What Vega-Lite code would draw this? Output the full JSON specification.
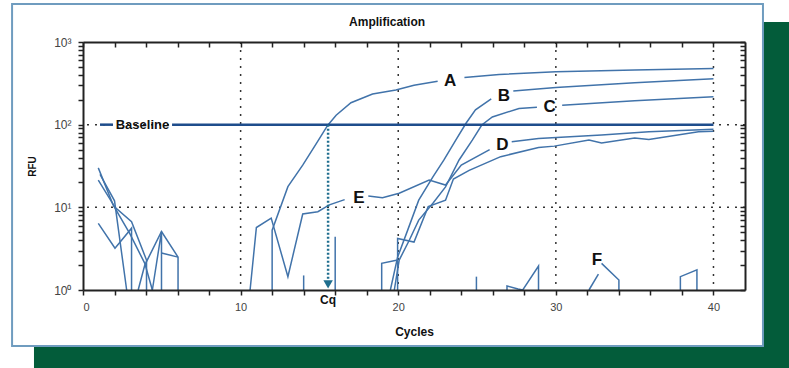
{
  "$schema": "https://vega.github.io/schema/vega-lite/v6.json",
  "width": 662,
  "height": 248,
  "autosize": {"type": "none"},
  "padding": {"left": 83, "top": 42, "right": 44, "bottom": 78},
  "background": "white",
  "config": {
    "view": {"stroke": null},
    "font": "Liberation Sans"
  },
  "datasets": {
    "curves": [
      {"s": "A1", "x": 12.0, "y": 1}, {"s": "A1", "x": 12.0, "y": 5.3}, {"s": "A1", "x": 13.0, "y": 17.8}, {"s": "A1", "x": 13.94, "y": 32.4}, {"s": "A1", "x": 14.8, "y": 59}, {"s": "A1", "x": 15.53, "y": 98.6}, {"s": "A1", "x": 16.06, "y": 130}, {"s": "A1", "x": 17.0, "y": 184}, {"s": "A1", "x": 18.37, "y": 235}, {"s": "A1", "x": 19.85, "y": 262}, {"s": "A1", "x": 21.0, "y": 300}, {"s": "A1", "x": 22.5, "y": 335},
      {"s": "A2", "x": 24.2, "y": 372}, {"s": "A2", "x": 26.4, "y": 405}, {"s": "A2", "x": 30.0, "y": 437}, {"s": "A2", "x": 35.0, "y": 460}, {"s": "A2", "x": 40.0, "y": 478},
      {"s": "B1", "x": 19.5, "y": 1}, {"s": "B1", "x": 19.96, "y": 2.5}, {"s": "B1", "x": 20.6, "y": 5.3}, {"s": "B1", "x": 21.3, "y": 12.2}, {"s": "B1", "x": 22.2, "y": 23.4}, {"s": "B1", "x": 22.9, "y": 37.4}, {"s": "B1", "x": 23.65, "y": 65}, {"s": "B1", "x": 24.3, "y": 104}, {"s": "B1", "x": 24.9, "y": 151}, {"s": "B1", "x": 25.9, "y": 205},
      {"s": "B2", "x": 27.3, "y": 255}, {"s": "B2", "x": 30.0, "y": 282}, {"s": "B2", "x": 35.0, "y": 322}, {"s": "B2", "x": 40.0, "y": 360},
      {"s": "C1", "x": 19.75, "y": 1}, {"s": "C1", "x": 20.06, "y": 2.3}, {"s": "C1", "x": 20.7, "y": 4.0}, {"s": "C1", "x": 21.3, "y": 7.0}, {"s": "C1", "x": 22.2, "y": 11.2}, {"s": "C1", "x": 23.0, "y": 17.7}, {"s": "C1", "x": 23.86, "y": 37.4}, {"s": "C1", "x": 24.7, "y": 65}, {"s": "C1", "x": 25.3, "y": 99}, {"s": "C1", "x": 25.97, "y": 124}, {"s": "C1", "x": 27.66, "y": 157}, {"s": "C1", "x": 28.8, "y": 162},
      {"s": "C2", "x": 30.4, "y": 172}, {"s": "C2", "x": 35.0, "y": 195}, {"s": "C2", "x": 40.0, "y": 217},
      {"s": "E1", "x": 10.6, "y": 1}, {"s": "E1", "x": 11.0, "y": 5.7}, {"s": "E1", "x": 11.94, "y": 7.4}, {"s": "E1", "x": 13.0, "y": 1.45}, {"s": "E1", "x": 13.94, "y": 8.3}, {"s": "E1", "x": 14.9, "y": 8.85}, {"s": "E1", "x": 15.63, "y": 10.7}, {"s": "E1", "x": 16.6, "y": 12.4},
      {"s": "E2", "x": 18.1, "y": 13.7}, {"s": "E2", "x": 19.0, "y": 13.1}, {"s": "E2", "x": 20.06, "y": 14.8}, {"s": "E2", "x": 21.96, "y": 21.4}, {"s": "E2", "x": 23.0, "y": 18.6}, {"s": "E2", "x": 24.0, "y": 32.5}, {"s": "E2", "x": 25.8, "y": 50},
      {"s": "E3", "x": 27.2, "y": 62}, {"s": "E3", "x": 28.9, "y": 68}, {"s": "E3", "x": 32.9, "y": 75}, {"s": "E3", "x": 35.9, "y": 82}, {"s": "E3", "x": 40.0, "y": 88},
      {"s": "D1", "x": 19.96, "y": 1}, {"s": "D1", "x": 19.96, "y": 4.2}, {"s": "D1", "x": 21.0, "y": 3.8}, {"s": "D1", "x": 21.9, "y": 10.2}, {"s": "D1", "x": 23.0, "y": 12.2}, {"s": "D1", "x": 23.5, "y": 22}, {"s": "D1", "x": 24.5, "y": 28}, {"s": "D1", "x": 26.5, "y": 41}, {"s": "D1", "x": 28.9, "y": 53}, {"s": "D1", "x": 29.9, "y": 55}, {"s": "D1", "x": 32.1, "y": 65}, {"s": "D1", "x": 32.9, "y": 60}, {"s": "D1", "x": 35.0, "y": 69}, {"s": "D1", "x": 35.9, "y": 66}, {"s": "D1", "x": 39.05, "y": 82}, {"s": "D1", "x": 40.0, "y": 83},
      {"s": "X1", "x": 18.95, "y": 1}, {"s": "X1", "x": 18.95, "y": 2.1}, {"s": "X1", "x": 19.96, "y": 2.3},
      {"s": "n1", "x": 0.97, "y": 30}, {"s": "n1", "x": 1.92, "y": 10.6}, {"s": "n1", "x": 2.97, "y": 4.8}, {"s": "n1", "x": 3.92, "y": 2.1}, {"s": "n1", "x": 4.4, "y": 1},
      {"s": "n2", "x": 0.97, "y": 21.4}, {"s": "n2", "x": 2.03, "y": 10}, {"s": "n2", "x": 3.08, "y": 6.7}, {"s": "n2", "x": 4.03, "y": 2.3}, {"s": "n2", "x": 4.03, "y": 1},
      {"s": "n3", "x": 0.97, "y": 6.4}, {"s": "n3", "x": 2.03, "y": 3.2}, {"s": "n3", "x": 3.08, "y": 5.6}, {"s": "n3", "x": 3.08, "y": 1},
      {"s": "n4", "x": 1.08, "y": 25}, {"s": "n4", "x": 2.0, "y": 12}, {"s": "n4", "x": 2.77, "y": 1},
      {"s": "n5", "x": 3.5, "y": 1}, {"s": "n5", "x": 3.92, "y": 2.0}, {"s": "n5", "x": 4.98, "y": 5.1}, {"s": "n5", "x": 6.03, "y": 2.5}, {"s": "n5", "x": 6.03, "y": 1},
      {"s": "n6", "x": 4.4, "y": 1}, {"s": "n6", "x": 4.98, "y": 5.1}, {"s": "n6", "x": 4.98, "y": 1},
      {"s": "n7", "x": 4.98, "y": 2.8}, {"s": "n7", "x": 6.03, "y": 2.5},
      {"s": "S1", "x": 14.0, "y": 1}, {"s": "S1", "x": 14.0, "y": 1.5},
      {"s": "S2", "x": 16.0, "y": 1}, {"s": "S2", "x": 16.0, "y": 4.4},
      {"s": "S3", "x": 24.96, "y": 1}, {"s": "S3", "x": 24.96, "y": 1.45},
      {"s": "S4", "x": 26.9, "y": 1}, {"s": "S4", "x": 26.9, "y": 1.12}, {"s": "S4", "x": 27.6, "y": 1.03}, {"s": "S4", "x": 27.9, "y": 1}, {"s": "S4", "x": 28.9, "y": 1.95}, {"s": "S4", "x": 28.9, "y": 1},
      {"s": "F1", "x": 32.1, "y": 1}, {"s": "F1", "x": 32.7, "y": 1.56},
      {"s": "F2", "x": 32.9, "y": 2.1}, {"s": "F2", "x": 34.0, "y": 1.32}, {"s": "F2", "x": 34.0, "y": 1},
      {"s": "S5", "x": 37.9, "y": 1}, {"s": "S5", "x": 37.9, "y": 1.45}, {"s": "S5", "x": 38.95, "y": 1.75}, {"s": "S5", "x": 38.95, "y": 1}
    ],
    "letters": [
      {"t": "A", "x": 23.3, "y": 337},
      {"t": "B", "x": 26.7, "y": 222},
      {"t": "C", "x": 29.6, "y": 163},
      {"t": "D", "x": 26.6, "y": 56.6},
      {"t": "E", "x": 17.5, "y": 12.8},
      {"t": "F", "x": 32.6, "y": 2.3}
    ]
  },
  "layer": [
    {
      "data": {"values": [{"x1": -3.11, "x2": 46, "y1": 0.08, "y2": 1746}]},
      "mark": {"type": "rect", "color": "#035c3a"},
      "encoding": {
        "x": {"field": "x1", "type": "quantitative", "scale": {"domain": [0, 42], "nice": false, "zero": false}, "axis": null},
        "x2": {"field": "x2"},
        "y": {"field": "y1", "type": "quantitative", "scale": {"type": "log", "domain": [1, 1000], "nice": false}, "axis": null},
        "y2": {"field": "y2"}
      }
    },
    {
      "data": {"values": [{"x1": -4.5, "x2": 43.14, "y1": 0.21, "y2": 2882}]},
      "mark": {"type": "rect", "fill": "white", "stroke": "#6f9cbf", "strokeWidth": 2},
      "encoding": {
        "x": {"field": "x1", "type": "quantitative", "axis": null},
        "x2": {"field": "x2"},
        "y": {"field": "y1", "type": "quantitative", "axis": null},
        "y2": {"field": "y2"}
      }
    },
    {
      "data": {"values": [{"t": "Amplification", "x": 19.29, "y": 1746}]},
      "mark": {"type": "text", "fontSize": 12, "fontWeight": "bold", "font": "Liberation Sans", "color": "#111", "baseline": "middle", "align": "center"},
      "encoding": {
        "x": {"field": "x", "type": "quantitative", "axis": null},
        "y": {"field": "y", "type": "quantitative", "axis": null},
        "text": {"field": "t"}
      }
    },
    {
      "data": {"values": [{"g": 10}, {"g": 20}, {"g": 30}, {"g": 40}]},
      "mark": {"type": "rule", "color": "#333", "strokeDash": [2, 6], "strokeWidth": 1.5},
      "encoding": {"x": {"field": "g", "type": "quantitative", "axis": null}}
    },
    {
      "data": {"values": [{"g": 10}, {"g": 100}]},
      "mark": {"type": "rule", "color": "#333", "strokeDash": [2, 6], "strokeWidth": 1.5},
      "encoding": {"y": {"field": "g", "type": "quantitative", "axis": null}}
    },
    {
      "data": {"name": "curves"},
      "mark": {"type": "line", "color": "#4173aa", "strokeWidth": 1.5},
      "encoding": {
        "x": {
          "field": "x", "type": "quantitative",
          "axis": {
            "zindex": 1,
            "values": [0, 2, 4, 6, 8, 10, 12, 14, 16, 18, 20, 22, 24, 26, 28, 30, 32, 34, 36, 38, 40],
            "labelExpr": "datum.value % 10 == 0 ? datum.label : ''",
            "labelOverlap": false,
            "grid": false,
            "title": "Cycles", "titleFontSize": 12, "titleFontWeight": "bold", "titleColor": "#111", "titlePadding": 14,
            "labelFontSize": 11, "labelColor": "#444", "labelPadding": 6,
            "tickSize": 5, "tickWidth": 1.5, "tickColor": "#222",
            "domainColor": "#222", "domainWidth": 2
          }
        },
        "y": {
          "field": "y", "type": "quantitative",
          "axis": {
            "zindex": 1,
            "values": [1, 2, 3, 4, 5, 6, 7, 8, 9, 10, 20, 30, 40, 50, 60, 70, 80, 90, 100, 200, 300, 400, 500, 600, 700, 800, 900, 1000],
            "labelExpr": "datum.value == 1 ? '10⁰' : datum.value == 10 ? '10¹' : datum.value == 100 ? '10²' : datum.value == 1000 ? '10³' : ''",
            "labelOverlap": false,
            "grid": false,
            "title": "RFU", "titleFontSize": 10, "titleFontWeight": "bold", "titleColor": "#111", "titlePadding": 16,
            "labelFontSize": 12, "labelColor": "#444", "labelPadding": 7,
            "tickSize": 5, "tickWidth": 1.5, "tickColor": "#222",
            "domainColor": "#222", "domainWidth": 2
          }
        },
        "detail": {"field": "s"},
        "order": {"value": null}
      }
    },
    {
      "data": {"values": [{"x1": 1.08, "x2": 1.9, "y": 100}, {"x1": 5.65, "x2": 40, "y": 100}]},
      "mark": {"type": "rule", "color": "#1e4d8c", "strokeWidth": 2.5},
      "encoding": {
        "x": {"field": "x1", "type": "quantitative", "axis": null},
        "x2": {"field": "x2"},
        "y": {"field": "y", "type": "quantitative", "axis": null}
      }
    },
    {
      "data": {"values": [{"x": 15.55, "y1": 100, "y2": 1.35}]},
      "mark": {"type": "rule", "color": "#1f6e8e", "strokeWidth": 2.5, "strokeDash": [2, 2]},
      "encoding": {
        "x": {"field": "x", "type": "quantitative", "axis": null},
        "y": {"field": "y1", "type": "quantitative", "axis": null},
        "y2": {"field": "y2"}
      }
    },
    {
      "data": {"values": [{"x": 15.55, "y": 1.17}]},
      "mark": {"type": "point", "shape": "triangle-down", "filled": true, "color": "#1f6e8e", "size": 90, "opacity": 1},
      "encoding": {
        "x": {"field": "x", "type": "quantitative", "axis": null},
        "y": {"field": "y", "type": "quantitative", "axis": null}
      }
    },
    {
      "data": {"name": "letters"},
      "mark": {"type": "text", "fontSize": 17, "fontWeight": "bold", "font": "Liberation Sans", "color": "#111", "baseline": "middle", "align": "center"},
      "encoding": {
        "x": {"field": "x", "type": "quantitative", "axis": null},
        "y": {"field": "y", "type": "quantitative", "axis": null},
        "text": {"field": "t"}
      }
    },
    {
      "data": {"values": [{"t": "Baseline", "x": 3.77, "y": 100}]},
      "mark": {"type": "text", "fontSize": 13, "fontWeight": "bold", "font": "Liberation Sans", "color": "#111", "baseline": "middle", "align": "center"},
      "encoding": {
        "x": {"field": "x", "type": "quantitative", "axis": null},
        "y": {"field": "y", "type": "quantitative", "axis": null},
        "text": {"field": "t"}
      }
    },
    {
      "data": {"values": [{"t": "Cq", "x": 15.55, "y": 0.757}]},
      "mark": {"type": "text", "fontSize": 12, "fontWeight": "bold", "font": "Liberation Sans", "color": "#111", "baseline": "middle", "align": "center"},
      "encoding": {
        "x": {"field": "x", "type": "quantitative", "axis": null},
        "y": {"field": "y", "type": "quantitative", "axis": null},
        "text": {"field": "t"}
      }
    },
    {
      "data": {"values": [{"x": 20, "y": 10}]},
      "mark": {"type": "point", "opacity": 0},
      "encoding": {
        "x": {
          "field": "x", "type": "quantitative",
          "axis": {
            "zindex": 1,
            "orient": "top",
            "values": [0, 2, 4, 6, 8, 10, 12, 14, 16, 18, 20, 22, 24, 26, 28, 30, 32, 34, 36, 38, 40],
            "labels": false, "title": null, "grid": false,
            "tickSize": -5, "tickWidth": 1.5, "tickColor": "#222",
            "domainColor": "#222", "domainWidth": 2
          }
        },
        "y": {
          "field": "y", "type": "quantitative",
          "axis": {
            "zindex": 1,
            "orient": "right",
            "values": [1, 2, 3, 4, 5, 6, 7, 8, 9, 10, 20, 30, 40, 50, 60, 70, 80, 90, 100, 200, 300, 400, 500, 600, 700, 800, 900, 1000],
            "labels": false, "title": null, "grid": false,
            "tickSize": -5, "tickWidth": 1.5, "tickColor": "#222",
            "domainColor": "#222", "domainWidth": 2
          }
        }
      }
    }
  ],
  "resolve": {"axis": {"x": "independent", "y": "independent"}}
}
